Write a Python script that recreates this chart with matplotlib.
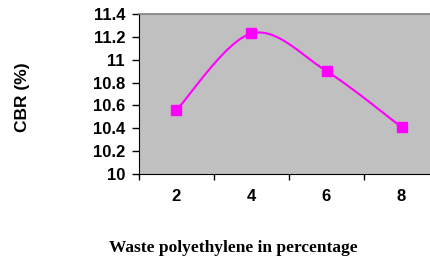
import matplotlib
matplotlib.use("Agg")
import matplotlib.pyplot as plt
import numpy as np

# CBR vs waste polyethylene content
categories = ["2", "4", "6", "8"]
cbr = [10.56, 11.23, 10.90, 10.41]
y_ticks = [10, 10.2, 10.4, 10.6, 10.8, 11, 11.2, 11.4]
y_tick_labels = ["10", "10.2", "10.4", "10.6", "10.8", "11", "11.2", "11.4"]


def smooth(xs, ys, n=40):
    # Excel-like smoothed line: cubic Bezier with 1/6 neighbour tangents
    xs = np.asarray(xs, float)
    ys = np.asarray(ys, float)
    px = np.concatenate([[xs[0]], xs, [xs[-1]]])
    py = np.concatenate([[ys[0]], ys, [ys[-1]]])
    out_x, out_y = [], []
    t = np.linspace(0, 1, n)
    for i in range(1, len(px) - 2):
        p0 = np.array([px[i], py[i]])
        p3 = np.array([px[i + 1], py[i + 1]])
        p1 = p0 + (np.array([px[i + 1], py[i + 1]]) - np.array([px[i - 1], py[i - 1]])) / 6
        p2 = p3 - (np.array([px[i + 2], py[i + 2]]) - np.array([px[i], py[i]])) / 6
        b = ((1 - t) ** 3)[:, None] * p0 + (3 * (1 - t) ** 2 * t)[:, None] * p1 \
            + (3 * (1 - t) * t ** 2)[:, None] * p2 + (t ** 3)[:, None] * p3
        out_x.extend(b[:, 0])
        out_y.extend(b[:, 1])
    return out_x, out_y


fig = plt.figure(figsize=(4.31, 2.61), dpi=100)
ax = fig.add_axes([139 / 431, 87 / 261, 300 / 431, 160 / 261])
ax.set_facecolor("#C0C0C0")

x = np.arange(len(categories)) * 2 + 2
sx, sy = smooth(x, cbr)
ax.plot(sx, sy, color="#FF00FF", lw=1.5, zorder=2)
ax.plot(x, cbr, ls="none", marker="s", ms=6.5, color="#FF00FF", zorder=3)

ax.set_xlim(1, 9)
ax.set_ylim(10, 11.4)
ax.set_xticks([1, 3, 5, 7, 9])
ax.set_xticklabels([])
ax.set_xticks(x, minor=True)
ax.set_xticklabels(categories, minor=True, fontweight="bold", fontsize=12,
                   family="Liberation Sans")
ax.tick_params(axis="x", which="minor", length=0, pad=11)
ax.tick_params(axis="x", which="major", length=4, width=1, direction="out")
ax.set_yticks(y_ticks)
ax.set_yticklabels(y_tick_labels, fontweight="bold", fontsize=12,
                   family="Liberation Sans")
ax.tick_params(axis="y", length=5, width=1, direction="out", pad=5)

ax.spines["top"].set_color("#808080")
ax.spines["top"].set_linewidth(1.2)
ax.spines["left"].set_color("black")
ax.spines["bottom"].set_color("black")
ax.spines["right"].set_visible(False)

fig.text(23 / 431, 1 - 97 / 261, "CBR (%)", rotation=90, ha="center", va="center",
         fontweight="bold", fontsize=12.5, family="Liberation Sans")
fig.text(233 / 431, 1 - 248 / 261, "Waste polyethylene in percentage",
         ha="center", va="center", fontweight="bold", fontsize=12.5,
         family="Liberation Serif")

fig.savefig("out.png", dpi=100)
